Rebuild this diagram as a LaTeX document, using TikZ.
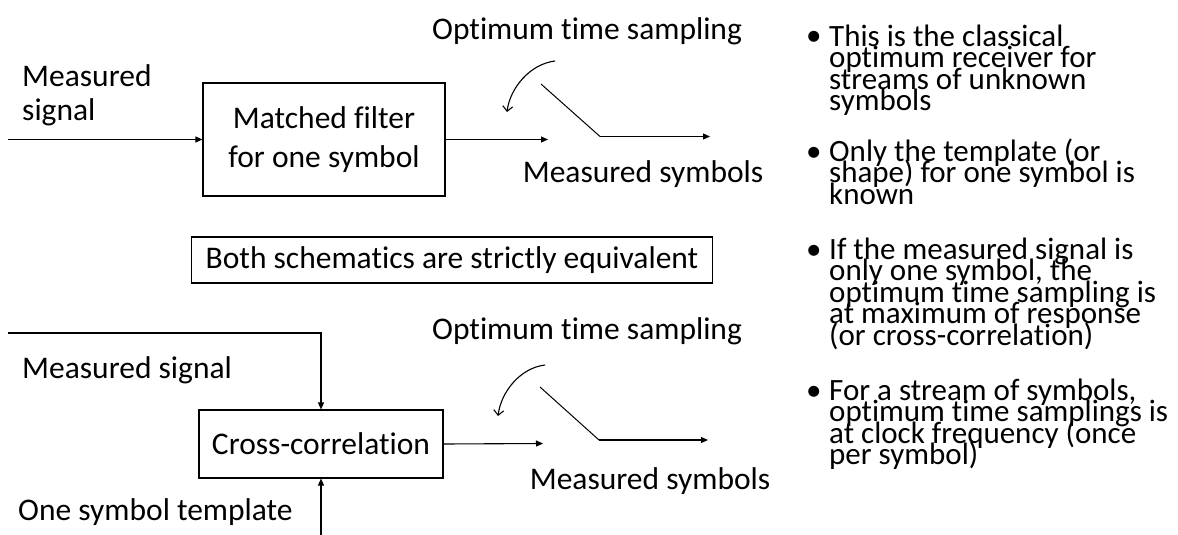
\documentclass[tikz,border=0pt]{standalone}
\usepackage{fontspec}
\setmainfont{Carlito}[Ligatures={NoCommon}]
\usetikzlibrary{arrows.meta}
\newcommand\tightlines{\fontsize{31}{21.5}\selectfont\lineskiplimit=-100pt\lineskip=0pt}
\begin{document}
\begin{tikzpicture}[x=1pt,y=-1pt,
  lbl/.style={inner sep=0pt, font=\fontsize{31.5}{33}\selectfont},
  blk/.style={draw, line width=1.1pt, inner sep=0pt, font=\fontsize{31.5}{39}\selectfont, align=center},
  sig/.style={line width=1.1pt, -{Triangle[length=7pt,width=6pt]}},
  swline/.style={line width=1pt},
  hint/.style={line width=1.1pt, -{Straight Barb[length=5pt,width=10pt]}},
  pts/.style={inner sep=0pt, align=left, font=\tightlines, anchor=base west},
  dot/.style={inner sep=0pt, font=\tightlines, anchor=base west}
]
\useasboundingbox (0,0) rectangle (1178,535);

% ---- matched-filter receiver ----
\node[lbl, anchor=west] (ots1) at (432,31) {Optimum time sampling};
\node[lbl, align=left, anchor=base west] (ms1) at (22,120) {Measured\\signal};
\node[blk, minimum width=242pt, minimum height=113pt] (mf) at (324,139.5) {Matched filter\\for one symbol};
\coordinate (in1) at (8,139.5);
\draw[sig] (in1) -- (mf.west);
\coordinate (o1) at (548,139.5);
\draw[sig] (mf.east) -- (o1);
\coordinate (sa1) at (541,84);
\coordinate (sb1) at (600,136.5);
\coordinate (out1) at (710,136.5);
\draw[swline] (sa1) -- (sb1);
\draw[sig] (sb1) -- (out1);
\coordinate (ca1) at (555,61);
\coordinate (cb1) at (507,112);
\draw[hint] (ca1) .. controls (530,64) and (510,88) .. (cb1);
\node[lbl] (msy1) at (643,174) {Measured symbols};

% ---- equivalence note ----
\node[blk, minimum height=46pt, inner xsep=14pt] (eq) at (452,260) {Both schematics are strictly equivalent};

% ---- cross-correlation receiver ----
\node[lbl, anchor=west] (ots2) at (432,331) {Optimum time sampling};
\node[lbl, anchor=base west] (ms2) at (22,378) {Measured signal};
\node[blk, minimum width=244pt, minimum height=68pt] (xc) at (321,444) {Cross-correlation};
\node[lbl, anchor=base west] (tpl) at (18,520) {One symbol template};
\coordinate (in2) at (8,333);
\coordinate (tp) at (321,535);
\draw[sig] (in2) -| (xc.north);
\draw[sig] (tp) -- (xc.south);
\coordinate (o2) at (543,443.5);
\draw[sig] (xc.east) -- (o2);
\coordinate (sa2) at (540,387);
\coordinate (sb2) at (599,440);
\coordinate (out2) at (708,440);
\draw[swline] (sa2) -- (sb2);
\draw[sig] (sb2) -- (out2);
\coordinate (ca2) at (545,365);
\coordinate (cb2) at (498,416);
\draw[hint] (ca2) .. controls (520,368) and (501,392) .. (cb2);
\node[lbl] (msy2) at (650,481) {Measured symbols};

% ---- remarks (each text node is anchored at the baseline of its last line) ----
\node[dot] (d1) at (806,46) {•};
\node[pts] (p1) at (829,110.5) {This is the classical\\optimum receiver for\\streams of unknown\\symbols};
\node[dot] (d2) at (806,161) {•};
\node[pts] (p2) at (829,204) {Only the template (or\\shape) for one symbol is\\known};
\node[dot] (d3) at (806,259) {•};
\node[pts] (p3) at (829,345) {If the measured signal is\\only one symbol, the\\optimum time sampling is\\at maximum of response\\(or cross-correlation)};
\node[dot] (d4) at (806,400) {•};
\node[pts] (p4) at (829,464.5) {For a stream of symbols,\\optimum time samplings is\\at clock frequency (once\\per symbol)};
\end{tikzpicture}
\end{document}
